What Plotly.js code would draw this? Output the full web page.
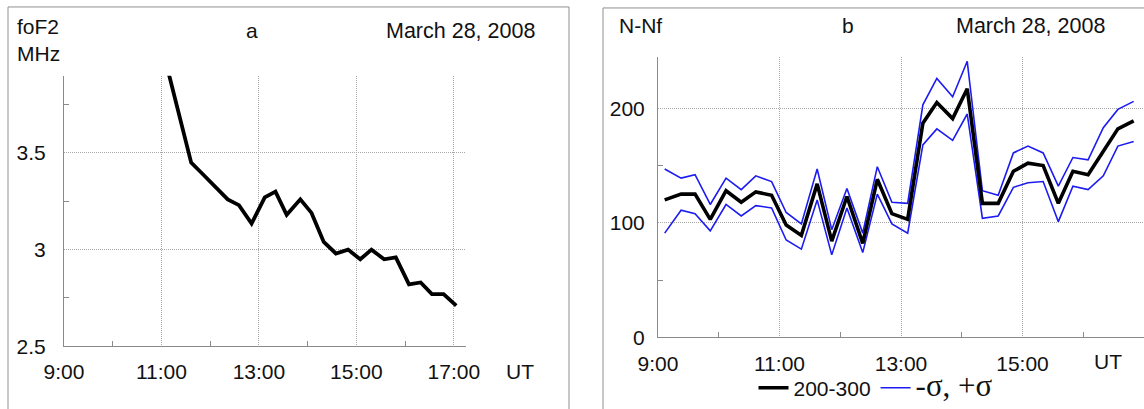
<!DOCTYPE html>
<html>
<head>
<meta charset="utf-8">
<script src="https://cdn.plot.ly/plotly-3.0.1.min.js"></script>
<style>html,body{margin:0;padding:0;background:#fff;}#chart{width:1144px;height:409px;}</style>
</head>
<body>
<div id="chart"></div>
<script>
// ---- Data ----
// Panel a: foF2 (MHz) vs UT (decimal hours)
const timeA = [11.15, 11.61, 11.85, 12.09, 12.36, 12.59, 12.85, 13.12, 13.34, 13.57, 13.85, 14.08,
               14.33, 14.58, 14.83, 15.08, 15.31, 15.57, 15.81, 16.08, 16.32, 16.55, 16.79, 17.05];
const foF2 = [3.91, 3.45, 3.39, 3.33, 3.26, 3.23, 3.135, 3.27, 3.30, 3.18, 3.26, 3.19,
              3.04, 2.98, 3.00, 2.95, 3.00, 2.95, 2.96, 2.82, 2.83, 2.77, 2.77, 2.71];

// Panel b: N-Nf, mean (200-300) and -sigma / +sigma
const timeB = [9.11, 9.38, 9.61, 9.86, 10.12, 10.37, 10.61, 10.87, 11.11, 11.36, 11.62, 11.86,
               12.11, 12.37, 12.61, 12.85, 13.11, 13.36, 13.59, 13.85, 14.09, 14.34, 14.60, 14.85,
               15.09, 15.34, 15.59, 15.83, 16.08, 16.33, 16.57, 16.83];
const meanB  = [120, 125, 125, 103, 128, 118, 127, 124, 98, 89, 134, 84, 123, 82, 138, 108,
                103, 187, 205, 191, 217, 117, 117, 145, 152, 150, 117, 145, 142, 163, 182, 189];
const upperB = [147, 139, 142, 116, 139, 129, 141, 136, 109, 99, 147, 94, 130, 91, 149, 118,
                117, 203, 226, 210, 241, 128, 124, 161, 167, 161, 132, 157, 155, 183, 199, 206];
const lowerB = [91, 111, 108, 93, 116, 106, 115, 113, 85, 77, 120, 72, 113, 74, 125, 99,
                91, 168, 182, 172, 195, 104, 106, 131, 135, 136, 101, 132, 129, 141, 167, 171];

// Tick labels
const tickValsA = [9, 11, 13, 15, 17];
const tickTextA = ['9:00', '11:00', '13:00', '15:00', '17:00'];
const tickValsB = [9, 11, 13, 15];
const tickTextB = ['9:00', '11:00', '13:00', '15:00'];
const yTickValsA = [2.5, 3, 3.5];
const yTickTextA = ['2.5', '3', '3.5'];
const yTickValsB = [0, 100, 200];
const yTickTextB = ['0', '100', '200'];
const seriesNames = ['200-300', '-σ, +σ'];

// ---- Layout helpers ----
const W = 1144, H = 409;
const px = v => v / W;
const py = v => 1 - v / H;
const FONT = 'Liberation Sans, Arial, sans-serif';
const TXT = '#111';
const BLUE = '#1c1cf2';

const traces = [
  {x: timeA, y: foF2, xaxis: 'x', yaxis: 'y', mode: 'lines', showlegend: false,
   line: {color: '#000', width: 3.8}},
  {x: timeB, y: upperB, xaxis: 'x2', yaxis: 'y2', mode: 'lines', name: '<span style="font-family:\'Liberation Serif\',\'Times New Roman\',serif;font-size:31px">' + seriesNames[1] + '</span>',
   legendgroup: 's', showlegend: true, legendrank: 2, line: {color: BLUE, width: 1.6}},
  {x: timeB, y: lowerB, xaxis: 'x2', yaxis: 'y2', mode: 'lines', legendgroup: 's', showlegend: false,
   line: {color: BLUE, width: 1.6}},
  {x: timeB, y: meanB, xaxis: 'x2', yaxis: 'y2', mode: 'lines', name: seriesNames[0],
   showlegend: true, legendrank: 1, line: {color: '#000', width: 3.6}}
];

const axisCommon = {
  showline: true, linecolor: '#8a8a8a', linewidth: 1,
  showgrid: true, gridcolor: '#a8a8a8', griddash: '1px,1px', gridwidth: 1,
  zeroline: false, ticks: '', tickfont: {family: FONT, size: 21, color: TXT},
  fixedrange: true
};

const layout = {
  width: W, height: H,
  margin: {l: 0, r: 0, t: 0, b: 0},
  paper_bgcolor: '#fff', plot_bgcolor: '#fff',
  font: {family: FONT, size: 21, color: TXT},
  showlegend: true,
  legend: {orientation: 'h', x: px(876), xanchor: 'center', y: py(390), yanchor: 'middle',
           font: {family: FONT, size: 21, color: TXT}, bgcolor: 'rgba(0,0,0,0)',
           itemwidth: 30, tracegroupgap: 0},
  xaxis: Object.assign({}, axisCommon, {
    domain: [px(64), px(466)], range: [9, 17.25], anchor: 'y',
    tickmode: 'array', tickvals: tickValsA, ticktext: tickTextA, ticklabelstandoff: 7,
    minor: {tickmode: 'array', tickvals: [10, 12, 14, 16], ticks: 'inside', ticklen: 5, tickcolor: '#8a8a8a', showgrid: false}
  }),
  yaxis: Object.assign({}, axisCommon, {
    domain: [1 - 348 / H, 1 - 76 / H], range: [2.5, 3.9], anchor: 'x',
    tickmode: 'array', tickvals: yTickValsA, ticktext: yTickTextA, ticklabelstandoff: 13,
    minor: {tickmode: 'array', tickvals: [2.75, 3.25, 3.75], ticks: 'inside', ticklen: 5, tickcolor: '#8a8a8a', showgrid: false}
  }),
  xaxis2: Object.assign({}, axisCommon, {
    domain: [px(658), 1], range: [9, 17], anchor: 'y2',
    tickmode: 'array', tickvals: tickValsB, ticktext: tickTextB, ticklabelstandoff: 7,
    minor: {tickmode: 'array', tickvals: [10, 12, 14, 16], ticks: 'inside', ticklen: 5, tickcolor: '#8a8a8a', showgrid: false}
  }),
  yaxis2: Object.assign({}, axisCommon, {
    domain: [1 - 339 / H, 1 - 57 / H], range: [0, 245], anchor: 'x2',
    tickmode: 'array', tickvals: yTickValsB, ticktext: yTickTextB, ticklabelstandoff: 8,
    minor: {tickmode: 'array', tickvals: [50, 150], ticks: 'inside', ticklen: 5, tickcolor: '#8a8a8a', showgrid: false}
  }),
  shapes: [
    {type: 'rect', xref: 'paper', yref: 'paper', x0: px(8), x1: px(569), y0: -0.1, y1: py(7),
     line: {color: '#8f8f8f', width: 1}, layer: 'below'},
    {type: 'rect', xref: 'paper', yref: 'paper', x0: px(603), x1: 1.05, y0: -0.1, y1: py(8),
     line: {color: '#8f8f8f', width: 1}, layer: 'below'}
  ],
  annotations: [
    {xref: 'paper', yref: 'paper', x: px(15), y: py(40), xanchor: 'left', yanchor: 'middle', align: 'left',
     text: 'foF2<br>MHz', showarrow: false, font: {family: FONT, size: 21, color: TXT}},
    {xref: 'paper', yref: 'paper', x: px(252), y: py(31), xanchor: 'center', yanchor: 'middle',
     text: 'a', showarrow: false, font: {family: FONT, size: 21, color: TXT}},
    {xref: 'paper', yref: 'paper', x: px(384), y: py(31), xanchor: 'left', yanchor: 'middle',
     text: 'March 28, 2008', showarrow: false, font: {family: FONT, size: 21.5, color: TXT}},
    {xref: 'paper', yref: 'paper', x: px(520), y: py(373), xanchor: 'center', yanchor: 'middle',
     text: 'UT', showarrow: false, font: {family: FONT, size: 21, color: TXT}},
    {xref: 'paper', yref: 'paper', x: px(617), y: py(26), xanchor: 'left', yanchor: 'middle',
     text: 'N-Nf', showarrow: false, font: {family: FONT, size: 21, color: TXT}},
    {xref: 'paper', yref: 'paper', x: px(848), y: py(26), xanchor: 'center', yanchor: 'middle',
     text: 'b', showarrow: false, font: {family: FONT, size: 21, color: TXT}},
    {xref: 'paper', yref: 'paper', x: px(954), y: py(26), xanchor: 'left', yanchor: 'middle',
     text: 'March 28, 2008', showarrow: false, font: {family: FONT, size: 21.5, color: TXT}},
    {xref: 'paper', yref: 'paper', x: px(1108), y: py(363), xanchor: 'center', yanchor: 'middle',
     text: 'UT', showarrow: false, font: {family: FONT, size: 21, color: TXT}}
  ]
};

Plotly.newPlot('chart', traces, layout, {staticPlot: true, displayModeBar: false});
</script>
</body>
</html>
